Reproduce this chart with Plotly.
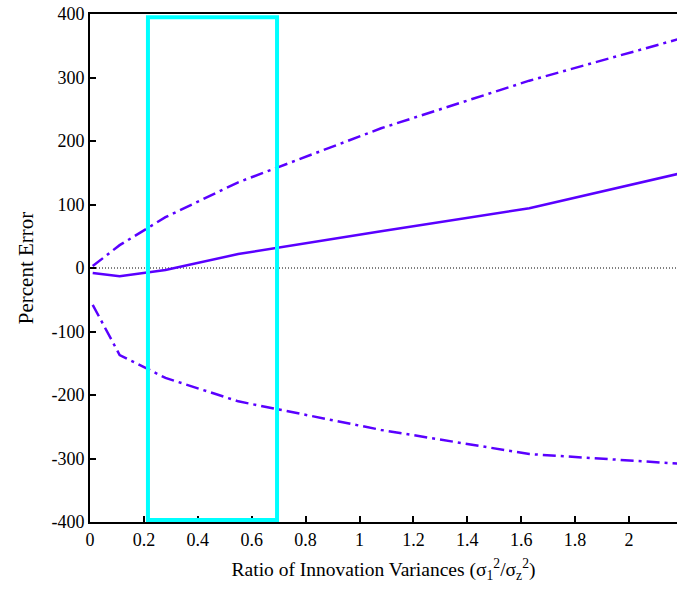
import plotly.graph_objects as go

# Data
x_vals = [0.01, 0.11, 0.28, 0.55, 1.08, 1.63, 2.18]
mean_err = [-8, -13, -3, 22, 58, 94, 148]
upper_err = [3, 36, 80, 135, 220, 295, 360]
lower_err = [-58, -137, -173, -210, -255, -293, -308]

rect_x = [0.215, 0.694]
rect_y = [-397, 395]

x_ticks = [0, 0.2, 0.4, 0.6, 0.8, 1, 1.2, 1.4, 1.6, 1.8, 2]
x_ticktext = ["0", "0.2", "0.4", "0.6", "0.8", "1", "1.2", "1.4", "1.6", "1.8", "2"]
y_ticks = [-400, -300, -200, -100, 0, 100, 200, 300, 400]
y_ticktext = ["-400", "-300", "-200", "-100", "0", "100", "200", "300", "400"]

color = "#5a00ff"
dashdot = "13px,5px,3px,5px"
font = "Liberation Serif"

fig = go.Figure()
fig.add_trace(go.Scatter(x=[0, 2.18], y=[0, 0], mode="lines",
                         line=dict(color="black", width=1, dash="1px,2px"),
                         hoverinfo="skip", showlegend=False))
fig.add_trace(go.Scatter(x=x_vals, y=upper_err, mode="lines",
                         line=dict(color=color, width=2.5, dash=dashdot), showlegend=False))
fig.add_trace(go.Scatter(x=x_vals, y=mean_err, mode="lines",
                         line=dict(color=color, width=2.5), showlegend=False))
fig.add_trace(go.Scatter(x=x_vals, y=lower_err, mode="lines",
                         line=dict(color=color, width=2.5, dash=dashdot), showlegend=False))

fig.add_shape(type="rect", x0=rect_x[0], x1=rect_x[1], y0=rect_y[0], y1=rect_y[1],
              line=dict(color="#00ffff", width=4), xref="x", yref="y")

fig.update_layout(
    width=677, height=590,
    margin=dict(l=90, r=0, t=14, b=68),
    plot_bgcolor="white", paper_bgcolor="white",
    font=dict(family=font, size=18, color="black"),
    xaxis=dict(range=[0, 2.178], tickvals=x_ticks, ticktext=x_ticktext,
               ticks="inside", ticklen=6, tickwidth=1.5, tickcolor="black",
               showline=True, linecolor="black", linewidth=2, mirror=True,
               showgrid=False, zeroline=False,
               title=dict(text="Ratio of Innovation Variances (σ<sub>1</sub><sup>2</sup>/σ<sub>z</sub><sup>2</sup>)",
                          font=dict(size=19.5), standoff=14)),
    yaxis=dict(range=[-400, 400], tickvals=y_ticks, ticktext=y_ticktext,
               ticks="inside", ticklen=6, tickwidth=1.5, tickcolor="black",
               showline=True, linecolor="black", linewidth=2,
               showgrid=False, zeroline=False,
               title=dict(text="Percent Error", font=dict(size=21), standoff=12)),
)

fig.write_html("out.html")
